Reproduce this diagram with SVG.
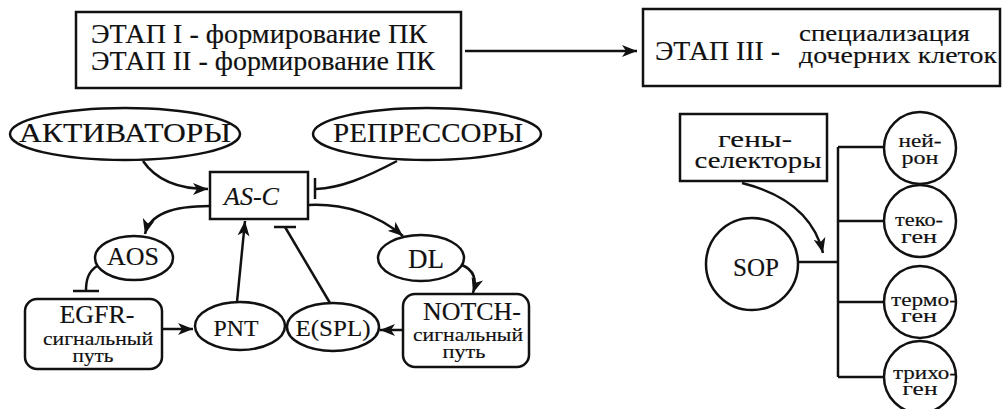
<svg xmlns="http://www.w3.org/2000/svg" width="1002" height="409" viewBox="0 0 1002 409">
<defs>
<style type="text/css">
.s{fill:#fff;stroke:#111;stroke-width:2.5}
text{font-family:'Liberation Serif','Times New Roman','DejaVu Serif',serif;fill:#111;stroke:#111;stroke-width:0.15}
.m{text-anchor:middle}
.c{fill:none;stroke:#111;stroke-width:2.5}
</style>
<marker id="ah" markerUnits="userSpaceOnUse" markerWidth="16" markerHeight="13" refX="15" refY="6.5" orient="auto">
<path d="M0,0.5 L15,6.5 L0,12.5 L4,6.5 z" fill="#111"/>
</marker>
</defs>
<rect width="1002" height="409" fill="#fff"/>
<g id="connectors">
<path class="c" d="M465,51 H637" marker-end="url(#ah)" stroke-width="1.8"/>
<path class="c" d="M143,161 C158,183 182,189 208,189" marker-end="url(#ah)"/>
<path class="c" d="M397,161 C365,178 340,188 316,189"/>
<path class="c" d="M315,178 V199"/>
<path class="c" d="M210,206 C172,206 150,214 145,234" marker-end="url(#ah)"/>
<path class="c" d="M308,205 C345,203 378,215 403,236" marker-end="url(#ah)"/>
<path class="c" d="M462,265 C474,270 477,280 473,293" marker-end="url(#ah)"/>
<path class="c" d="M97,266 C88,272 86,280 86,291"/>
<path class="c" d="M73,291 H99"/>
<path class="c" d="M162,329 H193" marker-end="url(#ah)"/>
<path class="c" d="M237,302 L245,221" marker-end="url(#ah)"/>
<path class="c" d="M330,303 L285,227"/>
<path class="c" d="M274,227 H296"/>
<path class="c" d="M403,330 H380" marker-end="url(#ah)"/>
<path class="c" d="M742,183 C790,195 815,220 823,253" marker-end="url(#ah)"/>
<path class="c" d="M799,262 H838 M838,147 V377 M838,147 H883 M838,221 H883 M838,302 H883 M838,377 H883"/>
</g>
<g id="stage12">
<rect class="s" x="76" y="12" width="385" height="76" stroke-width="2"/>
<text x="91" y="43" font-size="27" textLength="336" lengthAdjust="spacingAndGlyphs">ЭТАП I - формирование ПК</text>
<text x="91" y="70" font-size="27" textLength="344" lengthAdjust="spacingAndGlyphs">ЭТАП II - формирование ПК</text>
</g>
<g id="stage3">
<rect class="s" x="643" y="9" width="357" height="77" stroke-width="2"/>
<text x="655" y="60" font-size="27" textLength="125" lengthAdjust="spacingAndGlyphs">ЭТАП III -</text>
<text x="799" y="41" font-size="24" textLength="171" lengthAdjust="spacingAndGlyphs">специализация</text>
<text x="799" y="63" font-size="24" textLength="198" lengthAdjust="spacingAndGlyphs">дочерних клеток</text>
</g>
<g id="activators">
<ellipse class="s" cx="125" cy="134" rx="115" ry="26"/>
<text class="m" x="125" y="142" font-size="28" textLength="212" lengthAdjust="spacingAndGlyphs">АКТИВАТОРЫ</text>
</g>
<g id="repressors">
<ellipse class="s" cx="427" cy="134" rx="114" ry="26"/>
<text class="m" x="428" y="142" font-size="28" textLength="190" lengthAdjust="spacingAndGlyphs">РЕПРЕССОРЫ</text>
</g>
<g id="asc">
<rect class="s" x="210" y="172" width="98" height="47"/>
<text x="224" y="205" font-size="26" font-style="italic" textLength="55" lengthAdjust="spacingAndGlyphs">AS-C</text>
</g>
<g id="aos">
<ellipse class="s" cx="134" cy="258" rx="39" ry="22"/>
<text class="m" x="133" y="265" font-size="26" textLength="52" lengthAdjust="spacingAndGlyphs">AOS</text>
</g>
<g id="dl">
<ellipse class="s" cx="421" cy="258" rx="43" ry="23"/>
<text class="m" x="426" y="268" font-size="27" textLength="36" lengthAdjust="spacingAndGlyphs">DL</text>
</g>
<g id="egfr">
<rect class="s" x="25" y="299" width="137" height="70" rx="12"/>
<text class="m" x="97" y="323" font-size="25" textLength="75" lengthAdjust="spacingAndGlyphs">EGFR-</text>
<text class="m" x="98" y="345" font-size="19" textLength="110" lengthAdjust="spacingAndGlyphs">сигнальный</text>
<text class="m" x="93" y="362" font-size="19" textLength="41" lengthAdjust="spacingAndGlyphs">путь</text>
</g>
<g id="pnt">
<ellipse class="s" cx="240" cy="326" rx="45" ry="24"/>
<text class="m" x="236" y="336" font-size="24" textLength="45" lengthAdjust="spacingAndGlyphs">PNT</text>
</g>
<g id="espl">
<ellipse class="s" cx="333" cy="327" rx="46" ry="24"/>
<text class="m" x="333" y="336" font-size="24" textLength="75" lengthAdjust="spacingAndGlyphs">E(SPL)</text>
</g>
<g id="notch">
<rect class="s" x="403" y="294" width="126" height="73" rx="12"/>
<text class="m" x="472" y="320" font-size="25" textLength="98" lengthAdjust="spacingAndGlyphs">NOTCH-</text>
<text class="m" x="468" y="341" font-size="19" textLength="110" lengthAdjust="spacingAndGlyphs">сигнальный</text>
<text class="m" x="464" y="358" font-size="19" textLength="43" lengthAdjust="spacingAndGlyphs">путь</text>
</g>
<g id="selectors">
<rect class="s" x="680" y="114" width="147" height="67"/>
<text class="m" x="755" y="147" font-size="24" textLength="74" lengthAdjust="spacingAndGlyphs">гены-</text>
<text class="m" x="758" y="168" font-size="24" textLength="127" lengthAdjust="spacingAndGlyphs">селекторы</text>
</g>
<g id="sop">
<circle class="s" cx="752" cy="264" r="46"/>
<text class="m" x="756" y="276" font-size="26" textLength="46" lengthAdjust="spacingAndGlyphs">SOP</text>
</g>
<g id="neuron">
<circle class="s" cx="920" cy="148" r="36"/>
<text class="m" x="920" y="147" font-size="18" textLength="43" lengthAdjust="spacingAndGlyphs">ней-</text>
<text class="m" x="920" y="164" font-size="18" textLength="37" lengthAdjust="spacingAndGlyphs">рон</text>
</g>
<g id="tecogen">
<circle class="s" cx="920" cy="221" r="36"/>
<text class="m" x="919" y="226" font-size="18" textLength="48" lengthAdjust="spacingAndGlyphs">теко-</text>
<text class="m" x="919" y="243" font-size="18" textLength="36" lengthAdjust="spacingAndGlyphs">ген</text>
</g>
<g id="thermogen">
<circle class="s" cx="920" cy="302" r="36"/>
<text class="m" x="924" y="306" font-size="18" textLength="66" lengthAdjust="spacingAndGlyphs">термо-</text>
<text class="m" x="919" y="322" font-size="18" textLength="36" lengthAdjust="spacingAndGlyphs">ген</text>
</g>
<g id="trichogen">
<circle class="s" cx="920" cy="377" r="36"/>
<text class="m" x="925" y="379" font-size="18" textLength="64" lengthAdjust="spacingAndGlyphs">трихо-</text>
<text class="m" x="920" y="395" font-size="18" textLength="35" lengthAdjust="spacingAndGlyphs">ген</text>
</g>
</svg>
